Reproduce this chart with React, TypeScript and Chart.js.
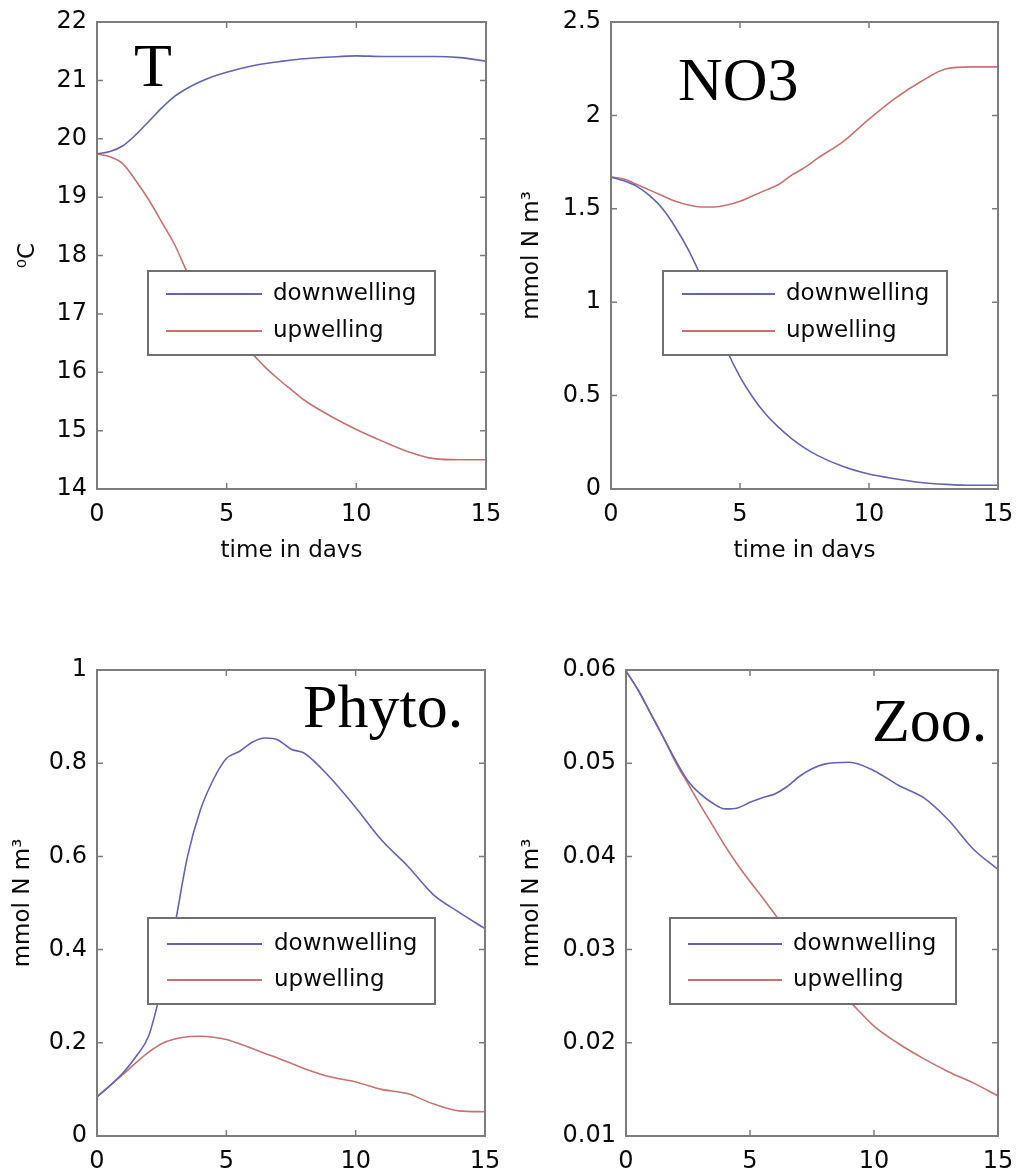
import React, { useEffect, useRef } from "react";
import { Chart, registerables } from "chart.js";

Chart.register(...registerables);

// ---------------- data ----------------
const DAYS = [0, 0.5, 1, 1.5, 2, 2.5, 3, 3.5, 4, 4.5, 5, 5.5, 6, 6.5, 7, 7.5, 8, 9, 10, 11, 12, 13, 14, 15];
const X_TICKS = [0, 5, 10, 15];
const SERIES_LABELS = ["downwelling", "upwelling"];
const X_TITLE = "time in days";

const T_DOWN = [19.74, 19.78, 19.88, 20.07, 20.3, 20.53, 20.73, 20.87, 20.98, 21.07, 21.14, 21.2, 21.25, 21.29, 21.32, 21.35, 21.37, 21.4, 21.42, 21.41, 21.41, 21.41, 21.39, 21.33];
const T_UP = [19.74, 19.69, 19.57, 19.28, 18.95, 18.57, 18.18, 17.7, 17.36, 17.05, 16.78, 16.53, 16.31, 16.08, 15.88, 15.7, 15.52, 15.25, 15.02, 14.82, 14.64, 14.52, 14.5, 14.5];

const NO3_DOWN = [1.67, 1.65, 1.62, 1.57, 1.5, 1.4, 1.28, 1.13, 0.92, 0.74, 0.6, 0.49, 0.4, 0.33, 0.27, 0.22, 0.18, 0.12, 0.08, 0.055, 0.035, 0.025, 0.02, 0.02];
const NO3_UP = [1.67, 1.66, 1.63, 1.6, 1.57, 1.54, 1.52, 1.51, 1.51, 1.52, 1.54, 1.57, 1.6, 1.63, 1.68, 1.72, 1.77, 1.86, 1.98, 2.09, 2.18, 2.25, 2.26, 2.26];

const PHYTO_DOWN = [0.084, 0.108, 0.135, 0.17, 0.215, 0.32, 0.45, 0.6, 0.7, 0.765, 0.81, 0.825, 0.845, 0.854, 0.85, 0.83, 0.822, 0.77, 0.705, 0.635, 0.58, 0.518, 0.48, 0.445];
const PHYTO_UP = [0.084, 0.108, 0.132, 0.157, 0.18, 0.198, 0.208, 0.213, 0.214, 0.212, 0.207, 0.198, 0.188, 0.177, 0.167, 0.156, 0.145, 0.127, 0.116, 0.1, 0.091, 0.069, 0.054, 0.052];

const ZOO_DOWN = [0.0599, 0.0578, 0.0553, 0.0528, 0.0503, 0.0481, 0.0467, 0.0457, 0.0451, 0.0452, 0.0458, 0.0463, 0.0467, 0.0475, 0.0486, 0.0494, 0.0499, 0.0501, 0.0492, 0.0476, 0.0463, 0.0439, 0.0408, 0.0386];
const ZOO_UP = [0.0599, 0.0578, 0.0553, 0.0528, 0.0501, 0.0478, 0.0455, 0.0433, 0.0411, 0.0391, 0.0373, 0.0356, 0.0338, 0.0321, 0.0304, 0.0288, 0.0272, 0.0245, 0.0218, 0.0199, 0.0183, 0.0169, 0.0157, 0.0143];

const T_TICKS = [14, 15, 16, 17, 18, 19, 20, 21, 22];
const NO3_TICKS = [0, 0.5, 1, 1.5, 2, 2.5];
const PHYTO_TICKS = [0, 0.2, 0.4, 0.6, 0.8, 1];
const ZOO_TICKS = [0.01, 0.02, 0.03, 0.04, 0.05, 0.06];

const PANEL_NAMES = ["T", "NO3", "Phyto.", "Zoo."];
const Y_TITLES = ["\u2070C", "mmol N m\u00b3", "mmol N m\u00b3", "mmol N m\u00b3"];

// ---------------- styles / layout ----------------
const BLUE = "#6464ae";
const RED = "#c47272";
const FONT = "'DejaVu Sans', 'Liberation Sans', sans-serif";
const TEXT = "#0a0a0a";
const BOXC = "#7c7c7c";

type Layout = {
  box: { left: number; top: number; width: number; clipH: number };
  plot: { L: number; T: number; R: number; B: number };
  xH: number;
  xTitle: boolean;
  yTitleX: number;
  legend: { x: number; y: number; w: number; h: number; l0: number; l1: number; tx: number; rows: number[] };
  label: { x: number; y: number };
};

const LAYOUTS: Layout[] = [
  {
    box: { left: 0, top: 0, width: 510, clipH: 558 },
    plot: { L: 97, T: 22, R: 486, B: 489 },
    xH: 80, xTitle: true, yTitleX: 28,
    legend: { x: 148, y: 271, w: 287, h: 84, l0: 166, l1: 262, tx: 273, rows: [294, 331] },
    label: { x: 134, y: 86 },
  },
  {
    box: { left: 510, top: 0, width: 507, clipH: 558 },
    plot: { L: 611, T: 22, R: 998, B: 489 },
    xH: 80, xTitle: true, yTitleX: 532,
    legend: { x: 663, y: 271, w: 284, h: 84, l0: 682, l1: 775, tx: 786, rows: [294, 331] },
    label: { x: 678, y: 100 },
  },
  {
    box: { left: 0, top: 630, width: 510, clipH: 543 },
    plot: { L: 97, T: 670, R: 485, B: 1136 },
    xH: 42, xTitle: false, yTitleX: 23,
    legend: { x: 148, y: 918, w: 287, h: 86, l0: 167, l1: 262, tx: 274, rows: [944, 980] },
    label: { x: 303, y: 727 },
  },
  {
    box: { left: 510, top: 630, width: 507, clipH: 543 },
    plot: { L: 626, T: 670, R: 998, B: 1136 },
    xH: 42, xTitle: false, yTitleX: 532,
    legend: { x: 670, y: 918, w: 286, h: 86, l0: 688, l1: 782, tx: 793, rows: [944, 980] },
    label: { x: 872, y: 741 },
  },
];

const PANEL_DATA = [
  { down: T_DOWN, up: T_UP, ticks: T_TICKS },
  { down: NO3_DOWN, up: NO3_UP, ticks: NO3_TICKS },
  { down: PHYTO_DOWN, up: PHYTO_UP, ticks: PHYTO_TICKS },
  { down: ZOO_DOWN, up: ZOO_UP, ticks: ZOO_TICKS },
];

function Panel({ idx }: { idx: number }) {
  const ref = useRef<HTMLCanvasElement>(null);
  const lay = LAYOUTS[idx];
  const { box, plot, xH } = lay;
  const W = box.width;
  const H = plot.B - box.top + xH;

  useEffect(() => {
    const canvas = ref.current;
    if (!canvas) return;
    const d = PANEL_DATA[idx];
    const ox = box.left;
    const oy = box.top;
    const yW = plot.L - box.left;
    const tickFont = 24;
    const yTitleFont = 23;
    const xTitleFont = 23;
    const xTitlePadBottom = plot.B + xH - 551 - (xTitleFont * 1.2) / 2;

    const decor = {
      id: "matlabDecor" + idx,
      afterDatasetsDraw(chart: any) {
        const ctx = chart.ctx;
        const a = chart.chartArea;
        const xs = chart.scales.x;
        const ys = chart.scales.y;
        ctx.save();
        // inward ticks
        ctx.strokeStyle = BOXC;
        ctx.lineWidth = 1.5;
        const tl = 6;
        ctx.beginPath();
        d.ticks.forEach((v: number) => {
          const y = ys.getPixelForValue(v);
          ctx.moveTo(a.left, y); ctx.lineTo(a.left + tl, y);
          ctx.moveTo(a.right, y); ctx.lineTo(a.right - tl, y);
        });
        X_TICKS.forEach((v) => {
          const x = xs.getPixelForValue(v);
          ctx.moveTo(x, a.bottom); ctx.lineTo(x, a.bottom - tl);
          ctx.moveTo(x, a.top); ctx.lineTo(x, a.top + tl);
        });
        ctx.stroke();
        // box
        ctx.lineWidth = 2;
        ctx.strokeRect(a.left, a.top, a.right - a.left, a.bottom - a.top);
        // legend
        const lg = lay.legend;
        ctx.fillStyle = "#ffffff";
        ctx.fillRect(lg.x - ox, lg.y - oy, lg.w, lg.h);
        ctx.strokeStyle = "#707070";
        ctx.lineWidth = 2;
        ctx.strokeRect(lg.x - ox, lg.y - oy, lg.w, lg.h);
        chart.data.datasets.forEach((ds: any, i: number) => {
          const ry = lg.rows[i] - oy;
          ctx.strokeStyle = ds.borderColor;
          ctx.lineWidth = 2;
          ctx.beginPath();
          ctx.moveTo(lg.l0 - ox, ry);
          ctx.lineTo(lg.l1 - ox, ry);
          ctx.stroke();
          ctx.fillStyle = TEXT;
          ctx.font = "23px " + FONT;
          ctx.textBaseline = "middle";
          ctx.textAlign = "left";
          ctx.fillText(ds.label, lg.tx - ox, ry);
        });
        // panel name
        ctx.fillStyle = "#000000";
        ctx.font = "62px 'Liberation Serif', 'Times New Roman', serif";
        ctx.textBaseline = "alphabetic";
        ctx.textAlign = "left";
        ctx.fillText(PANEL_NAMES[idx], lay.label.x - ox, lay.label.y - oy);
        ctx.restore();
      },
    };

    const chart = new Chart(canvas, {
      type: "line",
      data: {
        datasets: [
          {
            label: SERIES_LABELS[0],
            data: DAYS.map((x, i) => ({ x, y: d.down[i] })),
            borderColor: BLUE,
            borderWidth: 1.6,
            pointRadius: 0,
            cubicInterpolationMode: "monotone",
            fill: false,
          },
          {
            label: SERIES_LABELS[1],
            data: DAYS.map((x, i) => ({ x, y: d.up[i] })),
            borderColor: RED,
            borderWidth: 1.6,
            pointRadius: 0,
            cubicInterpolationMode: "monotone",
            fill: false,
          },
        ],
      },
      options: {
        responsive: false,
        animation: false,
        devicePixelRatio: 1,
        layout: {
          padding: {
            left: 0,
            top: plot.T - box.top,
            right: box.left + box.width - plot.R,
            bottom: 0,
          },
        },
        plugins: {
          legend: { display: false },
          tooltip: { enabled: false },
          title: { display: false },
        },
        scales: {
          x: {
            type: "linear",
            min: 0,
            max: 15,
            grid: { display: false, drawTicks: false },
            border: { display: false },
            afterBuildTicks: (s: any) => {
              s.ticks = X_TICKS.map((v) => ({ value: v }));
            },
            afterFit: (s: any) => {
              s.height = xH;
              s.paddingLeft = 0;
              s.paddingRight = 0;
            },
            ticks: {
              padding: 11,
              color: TEXT,
              font: { family: FONT, size: tickFont },
              maxRotation: 0,
              autoSkip: false,
              callback: (v: any) => String(v),
            },
            title: {
              display: lay.xTitle,
              text: X_TITLE,
              color: TEXT,
              font: { family: FONT, size: xTitleFont },
              padding: { top: 0, bottom: xTitlePadBottom },
            },
          },
          y: {
            type: "linear",
            min: d.ticks[0],
            max: d.ticks[d.ticks.length - 1],
            grid: { display: false, drawTicks: false },
            border: { display: false },
            afterBuildTicks: (s: any) => {
              s.ticks = d.ticks.map((v: number) => ({ value: v }));
            },
            afterFit: (s: any) => {
              s.width = yW;
              s.paddingTop = 0;
              s.paddingBottom = 0;
            },
            ticks: {
              padding: 10,
              color: TEXT,
              font: { family: FONT, size: tickFont },
              autoSkip: false,
              callback: (v: any) => String(v),
            },
            title: {
              display: true,
              text: Y_TITLES[idx],
              color: TEXT,
              font: { family: FONT, size: yTitleFont },
              padding: { top: lay.yTitleX - box.left - (yTitleFont * 1.2) / 2, bottom: 0 },
            },
          },
        },
      },
      plugins: [decor],
    } as any);
    return () => chart.destroy();
  }, []);

  return (
    <div
      style={{
        position: "absolute",
        left: box.left,
        top: box.top,
        width: box.width,
        height: box.clipH,
        overflow: "hidden",
      }}
    >
      <canvas ref={ref} width={W} height={H} style={{ display: "block", width: W, height: H }} />
    </div>
  );
}

export default function App() {
  return (
    <div
      style={{
        position: "absolute",
        left: 0,
        top: 0,
        width: 1017,
        height: 1173,
        background: "#ffffff",
        overflow: "hidden",
      }}
    >
      {LAYOUTS.map((_, i) => (
        <Panel key={i} idx={i} />
      ))}
    </div>
  );
}
